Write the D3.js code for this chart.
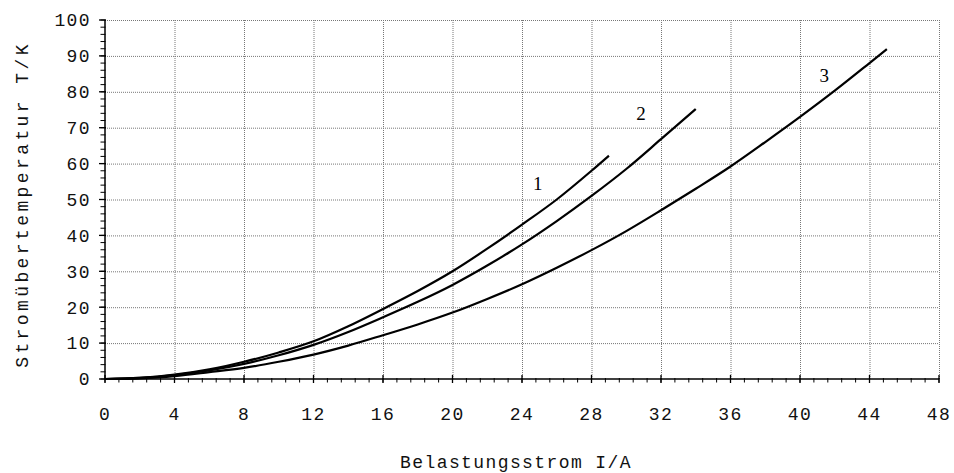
<!DOCTYPE html>
<html lang="de">
<head>
<meta charset="UTF-8">
<title>Stromübertemperatur</title>
<script src="https://d3js.org/d3.v7.min.js"></script>
<style>
  body { margin: 0; background: #fff; }
  .tick-label { font-family: "Liberation Mono", "DejaVu Sans Mono", monospace; font-size: 18px; letter-spacing: 1.4px; fill: #111; }
  .axis-title { font-family: "Liberation Mono", "DejaVu Sans Mono", monospace; font-size: 18px; letter-spacing: 1.4px; fill: #111; }
  .y-title { letter-spacing: 3.4px; }
  .curve-label { font-family: "Liberation Serif", "Times New Roman", serif; font-size: 19px; fill: #000; }
</style>
</head>
<body>
<svg width="954" height="473"></svg>
<script>
// Kurven: Belastungsstrom I (A) -> Stromübertemperatur T (K)
const current1 = [0, 2, 4, 6, 8, 10, 12, 14, 16, 18, 20, 22, 24, 26, 28, 29];
const temp1    = [0, 0.3, 1.2, 2.7, 4.8, 7.4, 10.5, 14.7, 19.5, 24.5, 30, 36.3, 43, 50, 58, 62.2];

const current2 = [0, 2, 4, 6, 8, 10, 12, 14, 16, 18, 20, 22, 24, 26, 28, 30, 32, 34];
const temp2    = [0, 0.3, 1.1, 2.4, 4.2, 6.6, 9.5, 13.1, 17.2, 21.5, 26.2, 31.6, 37.5, 44, 51, 58.5, 66.8, 75.2];

const current3 = [0, 2, 4, 6, 8, 10, 12, 14, 16, 18, 20, 22, 24, 26, 28, 30, 32, 34, 36, 38, 40, 42, 44, 45];
const temp3    = [0, 0.2, 0.8, 1.9, 3.1, 4.8, 6.8, 9.3, 12.2, 15.2, 18.5, 22.3, 26.4, 31, 35.9, 41.2, 47, 53, 59.2, 66, 73, 80.3, 88, 91.9];

const curveNames = ["1", "2", "3"];
const labelX = [24.9, 30.85, 41.4];
const labelY = [54.5, 74, 84.7];

const xTicks = d3.range(0, 49, 4);
const yTicks = d3.range(0, 101, 10);

const width = 954, height = 473;
const margin = { top: 20, right: 15, bottom: 94, left: 105 };

const svg = d3.select("svg");

const x = d3.scaleLinear().domain([0, 48]).range([margin.left, width - margin.right]);
const y = d3.scaleLinear().domain([0, 100]).range([height - margin.bottom, margin.top]);

// Gitter (gepunktet)
const grid = svg.append("g")
    .attr("stroke", "#777")
    .attr("stroke-width", 1)
    .attr("stroke-dasharray", "1,1");
grid.selectAll(".gx").data(xTicks.filter(d => d > 0)).enter().append("line")
    .attr("x1", d => x(d) + 0.5).attr("x2", d => x(d) + 0.5)
    .attr("y1", y(0)).attr("y2", y(100));
grid.selectAll(".gy").data(yTicks.filter(d => d > 0)).enter().append("line")
    .attr("x1", x(0)).attr("x2", x(48))
    .attr("y1", d => y(d) + 0.5).attr("y2", d => y(d) + 0.5);

// Achsen
const xAxis = svg.append("g")
    .attr("transform", `translate(0,${y(0)})`);
xAxis.append("line")
    .attr("x1", x(0)).attr("x2", x(48))
    .attr("stroke", "#000").attr("stroke-width", 1.5);
xAxis.selectAll(".minor").data(d3.range(0, 48.01, 0.8)).enter().append("line")
    .attr("x1", d => x(d)).attr("x2", d => x(d))
    .attr("y1", -1).attr("y2", 3.5)
    .attr("stroke", "#000").attr("stroke-width", 1);
xAxis.selectAll(".major").data(xTicks).enter().append("line")
    .attr("x1", d => x(d)).attr("x2", d => x(d))
    .attr("y1", -4).attr("y2", 4)
    .attr("stroke", "#000").attr("stroke-width", 1.3);
xAxis.selectAll("text").data(xTicks).enter().append("text")
    .attr("class", "tick-label")
    .attr("x", d => x(d))
    .attr("y", 41)
    .attr("text-anchor", "middle")
    .text(d => d);

const yAxis = svg.append("g")
    .attr("transform", `translate(${x(0)},0)`);
yAxis.append("line")
    .attr("y1", y(0)).attr("y2", y(100))
    .attr("stroke", "#000").attr("stroke-width", 1.5);
yAxis.selectAll(".minor").data(d3.range(0, 100.01, 2)).enter().append("line")
    .attr("x1", -4.5).attr("x2", 0.5)
    .attr("y1", d => y(d)).attr("y2", d => y(d))
    .attr("stroke", "#000").attr("stroke-width", 1);
yAxis.selectAll(".major").data(yTicks).enter().append("line")
    .attr("x1", -6).attr("x2", 1)
    .attr("y1", d => y(d)).attr("y2", d => y(d))
    .attr("stroke", "#000").attr("stroke-width", 1.3);
yAxis.selectAll("text").data(yTicks).enter().append("text")
    .attr("class", "tick-label")
    .attr("x", -14)
    .attr("y", d => y(d))
    .attr("dy", "0.35em")
    .attr("text-anchor", "end")
    .text(d => d);

// Achsentitel
svg.append("text")
    .attr("class", "axis-title")
    .attr("x", (x(0) + x(48)) / 2 - 6)
    .attr("y", 468)
    .attr("text-anchor", "middle")
    .text("Belastungsstrom I/A");

svg.append("text")
    .attr("class", "axis-title y-title")
    .attr("transform", `translate(28,${(y(0) + y(100)) / 2 + 5}) rotate(-90)`)
    .attr("text-anchor", "middle")
    .text("Stromübertemperatur T/K");

// Kurven
const series = [
    current1.map((c, i) => [c, temp1[i]]),
    current2.map((c, i) => [c, temp2[i]]),
    current3.map((c, i) => [c, temp3[i]])
];
const line = d3.line()
    .x(d => x(d[0]))
    .y(d => y(d[1]))
    .curve(d3.curveMonotoneX);

svg.selectAll(".curve").data(series).enter().append("path")
    .attr("class", "curve")
    .attr("d", line)
    .attr("fill", "none")
    .attr("stroke", "#000")
    .attr("stroke-width", 2.2);

svg.selectAll(".curve-label").data(curveNames).enter().append("text")
    .attr("class", "curve-label")
    .attr("x", (d, i) => x(labelX[i]))
    .attr("y", (d, i) => y(labelY[i]))
    .attr("dy", "0.35em")
    .attr("text-anchor", "middle")
    .text(d => d);
</script>
</body>
</html>
